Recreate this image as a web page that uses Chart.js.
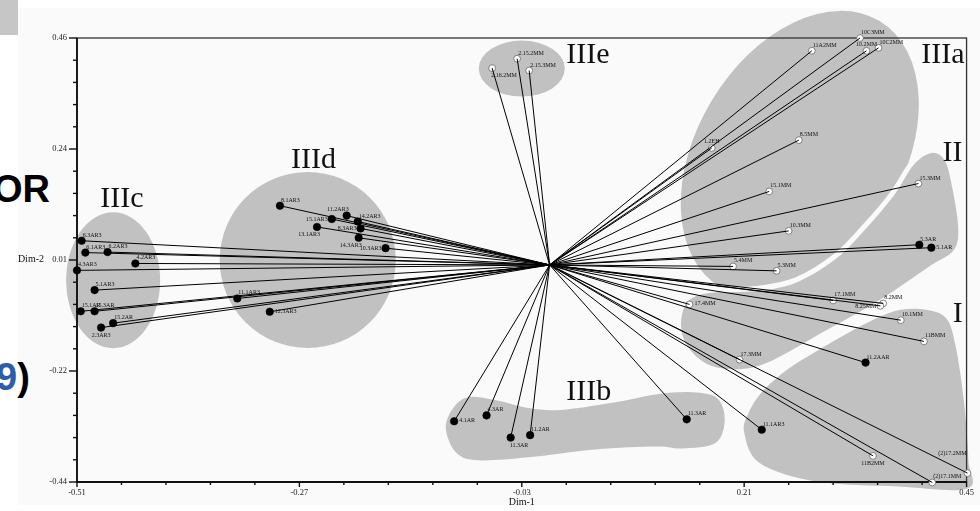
<!DOCTYPE html>
<html>
<head>
<meta charset="utf-8">
<script src="https://cdn.jsdelivr.net/npm/chart.js@4.4.1/dist/chart.umd.min.js"></script>
<style>
  body { margin: 0; background: #fff; width: 980px; height: 511px; position: relative; overflow: hidden; }
  #paper { position: absolute; left: 18px; top: 8px; width: 962px; height: 497px; background: #fafafa; }
  #corner { position: absolute; left: 0; top: 0; width: 18px; height: 35px; background: #c6c6c6; }
  .big { position: absolute; font: bold 38px "Liberation Sans", Arial, sans-serif; line-height: 38px; color: #000; }
  canvas { position: absolute; left: 0; top: 0; }
</style>
</head>
<body>
<div id="paper"></div>
<div id="corner"></div>
<div class="big" style="left:-7px;top:170px">OR</div>
<div class="big" style="left:-4px;top:358px"><span style="color:#2d5ca8">9</span>)</div>
<canvas id="chart" width="980" height="511"></canvas>
<script>
// axis ticks
const xTickValues = [-0.51, -0.27, -0.03, 0.21, 0.45];
const xTickLabels = ['-0.51', '-0.27', '-0.03', '0.21', '0.45'];
const yTickValues = [-0.44, -0.215, 0.01, 0.235, 0.46];
const yTickLabels = ['-0.44', '-0.22', '0.01', '0.24', '0.46'];

// AR samples (filled markers)
const arLabels = ['6.3AR3', '6.1AR3', '6.2AR3', '4.2AR3', '4.3AR3', '5.1AR3', '15.1AR', '15.3AR', '15.2AR', '2.3AR3',
  '8.1AR3', '11.2AR3', '15.1AR3', '14.2AR3', '8.3AR3', '13.1AR3', '14.3AR3', '10.3AR3', '11.1AR3', '12.3AR3',
  '4.1AR', '4.3AR', '11.3AR', '11.2AR', '11.3AR', '11.1AR3', '11.2AAR', '5.3AR', '5.1AR'];
const arDim1 = [-0.505, -0.501, -0.477, -0.447, -0.510, -0.491, -0.506, -0.491, -0.471, -0.484,
  -0.291, -0.219, -0.235, -0.207, -0.204, -0.251, -0.206, -0.177, -0.337, -0.302,
  -0.103, -0.068, -0.042, -0.021, 0.148, 0.229, 0.341, 0.399, 0.412];
const arDim2 = [0.049, 0.025, 0.026, 0.003, -0.011, -0.051, -0.094, -0.094, -0.118, -0.127,
  0.120, 0.100, 0.093, 0.088, 0.074, 0.077, 0.055, 0.034, -0.068, -0.095,
  -0.317, -0.305, -0.350, -0.345, -0.313, -0.334, -0.198, 0.041, 0.035];

// MM samples (open markers)
const mmLabels = ['2.16.2MM', '2.15.2MM', '2.15.3MM', '10C3MM', '11A2MM', '10.2MM', '10C2MM', '8.5MM', '1.2EH',
  '15.1MM', '15.3MM', '10.3MM', '5.4MM', '5.3MM', '17.1MM', '8.2MM', '8.25MM', '17.4MM', '10.1MM', '11BMM',
  '17.3MM', '11B2MM', '(2)17.2MM', '(2)17.1MM'];
const mmDim1 = [-0.062, -0.035, -0.022, 0.335, 0.283, 0.342, 0.355, 0.269, 0.175,
  0.237, 0.398, 0.258, 0.198, 0.245, 0.306, 0.360, 0.357, 0.151, 0.379, 0.404,
  0.205, 0.349, 0.451, 0.413];
const mmDim2 = [0.399, 0.418, 0.394, 0.460, 0.434, 0.434, 0.440, 0.253, 0.237,
  0.149, 0.165, 0.069, -0.003, -0.012, -0.072, -0.078, -0.083, -0.080, -0.112, -0.155,
  -0.192, -0.387, -0.422, -0.441];

// where each sample's name sits relative to its marker
const arLabelPos = ['ur', 'ur', 'ur', 'ur', 'ur', 'ur', 'ur', 'ur', 'ur', 'b',
  'ur', 'ul', 'l', 'ur', 'l', 'bl', 'bl', 'l', 'ur', 'r',
  'r', 'ur', 'br', 'ur', 'ur', 'ur', 'ur', 'ur', 'r'];
const mmLabelPos = ['br', 'ur', 'ur', 'ur', 'ur', 'u', 'ur', 'ur', 'u',
  'ur', 'ur', 'ur', 'ur', 'ur', 'ur', 'ur', 'l', 'r', 'ur', 'ur',
  'ur', 'b', 'ul2', 'ur'];
const labelOffsets = {
  ur: [1, -4, 'left'], r: [5, 1, 'left'], b: [0, 9, 'center'], br: [-1, 9, 'left'],
  bl: [3, 9, 'right'], l: [-4, 2, 'right'], u: [0, -5, 'center'], ul: [2, -5, 'right'],
  ul2: [-1, -18, 'right']
};

// grey cluster outlines (decoration)
const regionFill = '#c1c1c1';
const paperColor = '#fafafa';
const ellipseRegions = [
  { cx: -0.471, cy: -0.031, rx: 47, ry: 68, rot: 0 },     // IIIc
  { cx: -0.261, cy: 0.010, rx: 88, ry: 88, rot: 0 },      // IIId
  { cx: -0.030, cy: 0.398, rx: 43, ry: 28, rot: 0 },      // IIIe
  { cx: 0.270, cy: 0.225, rx: 155, ry: 103, rot: -59 }    // IIIa
];
const blobRegions = [
  { gap: 0, pts: [[-0.112, -0.331], [-0.104, -0.290], [-0.088, -0.268], [-0.059, -0.274], [-0.023, -0.290],
    [0.012, -0.294], [0.066, -0.280], [0.116, -0.262], [0.154, -0.258], [0.181, -0.270], [0.189, -0.315],
    [0.179, -0.361], [0.143, -0.372], [0.116, -0.368], [0.049, -0.374], [-0.023, -0.390], [-0.077, -0.396],
    [-0.101, -0.380]] },                                   // IIIb
  { gap: 10, pts: [[0.412, 0.227], [0.426, 0.213], [0.434, 0.162], [0.441, 0.075], [0.436, 0.030], [0.412, 0.000],
    [0.385, -0.035], [0.358, -0.069], [0.326, -0.104], [0.293, -0.138], [0.261, -0.173], [0.234, -0.199],
    [0.208, -0.211], [0.175, -0.205], [0.152, -0.173], [0.142, -0.128], [0.148, -0.077], [0.172, -0.057],
    [0.224, -0.053], [0.267, -0.035], [0.310, 0.014], [0.342, 0.075], [0.372, 0.142], [0.393, 0.203]] }, // II
  { gap: 8, pts: [[0.406, -0.091], [0.428, -0.108], [0.438, -0.163], [0.447, -0.274], [0.452, -0.396],
    [0.451, -0.453], [0.377, -0.449], [0.288, -0.439], [0.227, -0.402], [0.210, -0.339], [0.215, -0.299],
    [0.229, -0.258], [0.256, -0.213], [0.288, -0.175], [0.320, -0.140], [0.353, -0.108], [0.379, -0.091]] } // I
];
const groupNames = [
  { text: 'IIIc', x: -0.485, y: 0.118 },
  { text: 'IIId', x: -0.279, y: 0.197 },
  { text: 'IIIe', x: 0.018, y: 0.409 },
  { text: 'IIIa', x: 0.401, y: 0.409 },
  { text: 'II', x: 0.424, y: 0.210 },
  { text: 'I', x: 0.435, y: -0.115 },
  { text: 'IIIb', x: 0.018, y: -0.274 }
];

const serif = '"Liberation Serif", "Times New Roman", serif';
Chart.defaults.font.family = serif;

const toPoints = (xs, ys) => xs.map((v, i) => ({ x: v, y: ys[i] }));
const arPoints = toPoints(arDim1, arDim2);
const mmPoints = toPoints(mmDim1, mmDim2);

// one ray from the origin to every sample, broken by gaps
const rays = [];
[...arPoints, ...mmPoints].forEach(p => {
  rays.push({ x: 0, y: 0 }, { x: p.x, y: p.y }, { x: 0, y: null });
});

function tracePath(ctx, pts) {
  const n = pts.length;
  ctx.moveTo(pts[0][0], pts[0][1]);
  for (let i = 0; i < n; i++) {
    const p0 = pts[(i - 1 + n) % n], p1 = pts[i], p2 = pts[(i + 1) % n], p3 = pts[(i + 2) % n];
    ctx.bezierCurveTo(
      p1[0] + (p2[0] - p0[0]) / 6, p1[1] + (p2[1] - p0[1]) / 6,
      p2[0] - (p3[0] - p1[0]) / 6, p2[1] - (p3[1] - p1[1]) / 6,
      p2[0], p2[1]);
  }
  ctx.closePath();
}

const biplotPlugin = {
  id: 'biplot',
  beforeDraw(chart) {
    const { ctx, scales: { x, y } } = chart;
    ctx.save();
    ctx.fillStyle = regionFill;
    ellipseRegions.forEach(e => {
      ctx.beginPath();
      ctx.ellipse(x.getPixelForValue(e.cx), y.getPixelForValue(e.cy), e.rx, e.ry, e.rot * Math.PI / 180, 0, Math.PI * 2);
      ctx.fill();
    });
    blobRegions.forEach(b => {
      const pts = b.pts.map(p => [x.getPixelForValue(p[0]), y.getPixelForValue(p[1])]);
      ctx.beginPath();
      tracePath(ctx, pts);
      if (b.gap) {
        ctx.strokeStyle = paperColor;
        ctx.lineWidth = b.gap;
        ctx.lineJoin = 'round';
        ctx.stroke();
      }
      ctx.fill();
    });
    ctx.restore();
  },
  beforeDatasetsDraw(chart) {
    const { ctx, chartArea: a, scales: { x, y } } = chart;
    ctx.save();
    // frame
    ctx.strokeStyle = '#333';
    ctx.lineWidth = 1.3;
    ctx.strokeRect(a.left, a.top, a.right - a.left, a.bottom - a.top);
    ctx.strokeStyle = '#111';
    ctx.lineWidth = 1.8;
    ctx.beginPath();
    ctx.moveTo(a.left, a.top);
    ctx.lineTo(a.left, a.bottom);
    ctx.lineTo(a.right, a.bottom);
    ctx.stroke();
    // major and minor tick marks
    ctx.lineWidth = 1.4;
    for (let k = 0; k <= 20; k++) {
      const vx = x.min + k * (x.max - x.min) / 20;
      const px = x.getPixelForValue(vx);
      ctx.beginPath();
      ctx.moveTo(px, a.bottom);
      ctx.lineTo(px, a.bottom + (k % 5 === 0 ? 5 : 3));
      ctx.stroke();
      const vy = y.min + k * (y.max - y.min) / 20;
      const py = y.getPixelForValue(vy);
      ctx.beginPath();
      ctx.moveTo(a.left - (k % 5 === 0 ? 8 : 4), py);
      ctx.lineTo(a.left, py);
      ctx.stroke();
    }
    // cluster names
    ctx.fillStyle = '#111';
    ctx.font = '30px ' + serif;
    ctx.textAlign = 'left';
    ctx.textBaseline = 'alphabetic';
    groupNames.forEach(g => ctx.fillText(g.text, x.getPixelForValue(g.x), y.getPixelForValue(g.y)));
    // axis titles
    ctx.font = '10px ' + serif;
    ctx.textBaseline = 'middle';
    ctx.textAlign = 'right';
    ctx.fillText('Dim-2', 44, y.getPixelForValue(0.01) - 1);
    ctx.textAlign = 'center';
    ctx.fillText('Dim-1', x.getPixelForValue(-0.03), chart.height - 9);
    ctx.restore();
  },
  afterDatasetsDraw(chart) {
    const { ctx } = chart;
    ctx.save();
    ctx.fillStyle = '#111';
    ctx.font = '6px ' + serif;
    ctx.textBaseline = 'alphabetic';
    [[1, arLabels, arLabelPos], [2, mmLabels, mmLabelPos]].forEach(([ds, names, pos]) => {
      chart.getDatasetMeta(ds).data.forEach((el, i) => {
        const [dx, dy, align] = labelOffsets[pos[i]];
        ctx.textAlign = align;
        ctx.fillText(names[i], el.x + dx, el.y + dy);
      });
    });
    ctx.restore();
  }
};

new Chart(document.getElementById('chart'), {
  type: 'scatter',
  data: {
    datasets: [
      { data: rays, showLine: true, spanGaps: false, borderColor: '#000', borderWidth: 1, pointRadius: 0, clip: false },
      { data: arPoints, backgroundColor: '#000', borderColor: '#000', borderWidth: 0.5, pointRadius: 3.8, clip: false },
      { data: mmPoints, backgroundColor: '#fff', borderColor: '#666', borderWidth: 0.8, pointRadius: 3.4, clip: false }
    ]
  },
  options: {
    responsive: false,
    animation: false,
    devicePixelRatio: 1,
    layout: { padding: { top: 38, right: 9, left: 0, bottom: 0 } },
    plugins: { legend: { display: false }, tooltip: { enabled: false } },
    scales: {
      x: {
        type: 'linear', min: -0.51, max: 0.45,
        afterBuildTicks: s => { s.ticks = xTickValues.map(v => ({ value: v })); },
        afterFit: s => { s.height = 29; },
        grid: { display: false, drawTicks: false },
        border: { display: false },
        ticks: { callback: (v, i) => xTickLabels[i], font: { size: 8.5 }, color: '#222', padding: 6, maxRotation: 0, autoSkip: false }
      },
      y: {
        type: 'linear', min: -0.44, max: 0.46,
        afterBuildTicks: s => { s.ticks = yTickValues.map(v => ({ value: v })); },
        afterFit: s => { s.width = 77; },
        grid: { display: false, drawTicks: false },
        border: { display: false },
        ticks: { callback: (v, i) => yTickLabels[i], font: { size: 8.5 }, color: '#222', padding: 10, autoSkip: false }
      }
    }
  },
  plugins: [biplotPlugin]
});
</script>
</body>
</html>
